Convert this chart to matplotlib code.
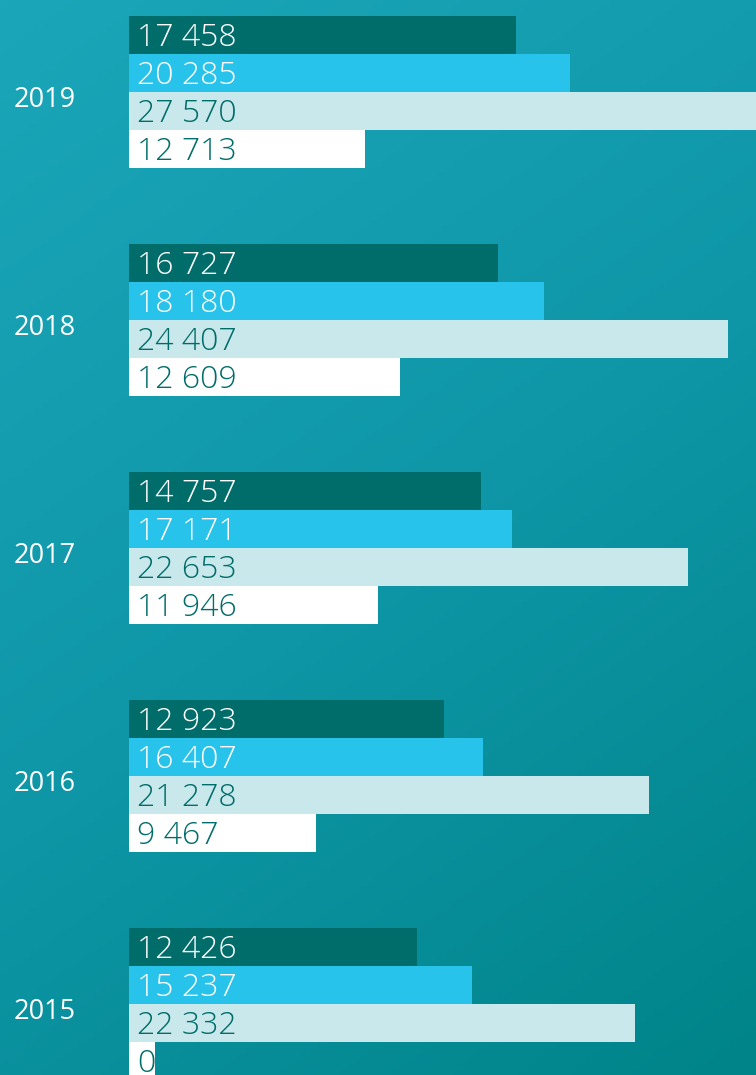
import matplotlib
matplotlib.use("Agg")
import matplotlib.pyplot as plt
import matplotlib.transforms as mtransforms
import numpy as np
from matplotlib.colors import LinearSegmentedColormap

years = ["2019", "2018", "2017", "2016", "2015"]
# value labels shown on the bars (series 1..4, per year)
labels_s1 = ["17 458", "16 727", "14 757", "12 923", "12 426"]
labels_s2 = ["20 285", "18 180", "17 171", "16 407", "15 237"]
labels_s3 = ["27 570", "24 407", "22 653", "21 278", "22 332"]
labels_s4 = ["12 713", "12 609", "11 946", "9 467", "0"]
# drawn bar lengths (the picture's bars are not proportional to labels)
len_s1 = [17.41, 16.60, 15.83, 14.17, 12.96]
len_s2 = [19.84, 18.67, 17.23, 15.92, 15.43]
len_s3 = [28.60, 26.95, 25.15, 23.39, 22.76]
len_s4 = [10.62, 12.19, 11.20, 8.41, 1.17]

colors = ["#006d6a", "#27c3ea", "#c9e8ec", "#ffffff"]
text_colors = ["#ffffff", "#ffffff", "#006d6a", "#006d6a"]

plt.rcParams['font.family'] = ['Open Sans', 'DejaVu Sans']

W, H = 756, 1075
fig = plt.figure(figsize=(W / 100, H / 100), dpi=100)

# gradient background
bg = fig.add_axes([0, 0, 1, 1])
yy, xx = np.mgrid[0:1:200j, 0:1:200j]
t = (0.45 * xx + 0.9 * yy) / 1.35
cmap = LinearSegmentedColormap.from_list("bg", ["#1ba6b9", "#0f97a8", "#008489"])
bg.imshow(t, cmap=cmap, extent=[0, 1, 0, 1], origin="upper", aspect="auto")
bg.set_axis_off()

left_px = 129
ax = fig.add_axes([left_px / W, 0, (W - left_px) / W, 1])
ax.patch.set_alpha(0)
ax.set_xlim(0, (W - left_px) / 22.23)
bar_h_px = 38
top = -0.5 - 16 / bar_h_px
ax.set_ylim(top + H / bar_h_px, top)
ax.set_axis_off()

series_len = [len_s1, len_s2, len_s3, len_s4]
series_lab = [labels_s1, labels_s2, labels_s3, labels_s4]
text_dx = 8 / 22.23
for g, yr in enumerate(years):
    for j in range(4):
        y = g * 6 + j
        ax.barh(y, series_len[j][g], height=1.0, left=0, color=colors[j], linewidth=0)
        ax.text(text_dx, y + 0.08, series_lab[j][g], color=text_colors[j], fontsize=23,
                va="center", ha="left", fontweight="light")
    tr = mtransforms.blended_transform_factory(fig.transFigure, ax.transData)
    ax.text(45 / W, g * 6 + 1.7, yr, transform=tr, color="white", fontsize=19.5,
            va="center", ha="center", fontweight="medium")

fig.savefig("out.png", dpi=100)
